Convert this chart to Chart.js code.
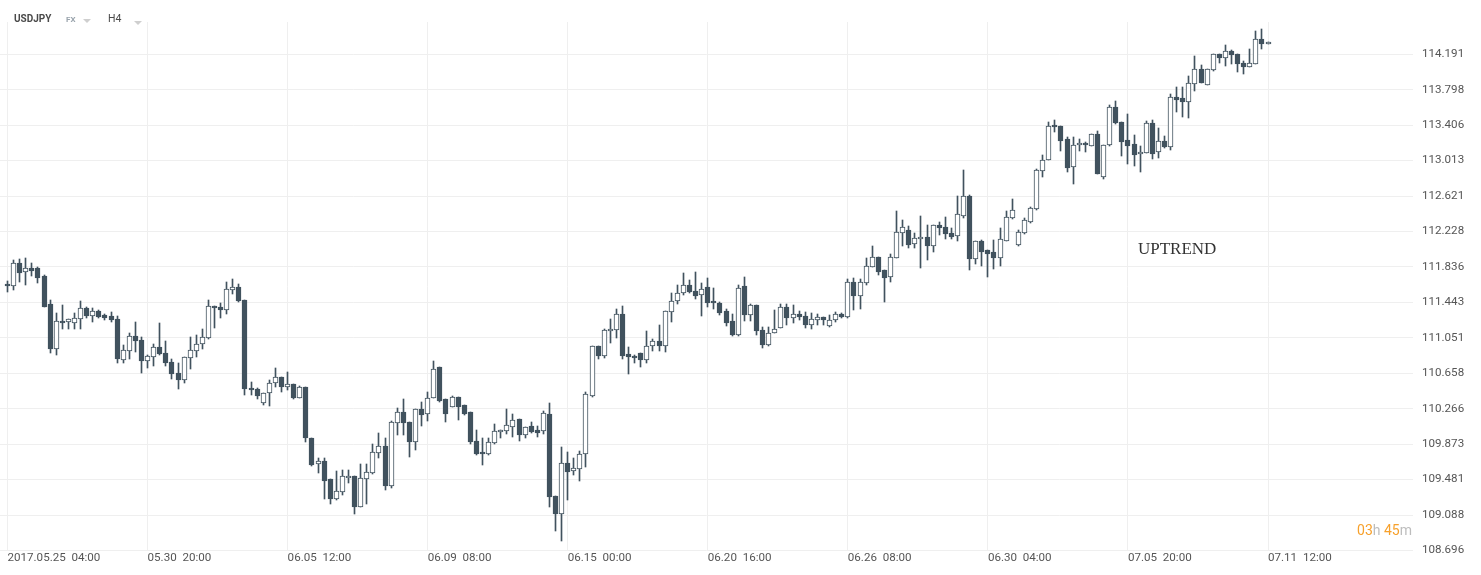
<!DOCTYPE html>
<html>
<head>
<meta charset="utf-8">
<script src="https://cdn.jsdelivr.net/npm/chart.js@4/dist/chart.umd.min.js"></script>
<style>
html,body{margin:0;padding:0;background:#ffffff;}
#wrap{position:relative;width:1481px;height:575px;overflow:hidden;background:#fff;}
#c{position:absolute;left:0;top:0;}
.t{position:absolute;white-space:pre;font-family:Roboto,"Liberation Sans",sans-serif;}
.tri{position:absolute;width:0;height:0;border-left:4px solid transparent;border-right:4px solid transparent;border-top:4px solid #cfcfcf;}
</style>
</head>
<body>
<div id="wrap">
<canvas id="c" width="1481" height="575"></canvas>
<div class="t" style="left:14px;top:14.3px;font-size:10px;line-height:10px;font-weight:bold;color:#4a4a4a;">USDJPY</div>
<div class="t" style="left:66px;top:16.3px;font-size:8px;line-height:8px;font-weight:bold;color:#9aa4ad;">FX</div>
<div class="tri" style="left:83px;top:19px;"></div>
<div class="t" style="left:108px;top:14.3px;font-size:10.5px;line-height:10.5px;color:#4a4a4a;">H4</div>
<div class="tri" style="left:134px;top:21px;"></div>
<div class="t" style="left:1138px;top:239.8px;font-family:'Liberation Serif','DejaVu Serif',serif;font-size:17px;line-height:17px;color:#333;">UPTREND</div>
<div class="t" style="right:69px;top:522.5px;font-size:14px;line-height:14px;"><span style="color:#f7a12c">03</span><span style="color:#bdbdbd">h </span><span style="color:#f7a12c">45</span><span style="color:#bdbdbd">m</span></div>
</div>
<script>
// USDJPY H4 candles, 2017.05.25 04:00 .. 2017.07.11 12:00
const opens = [111.650,111.621,111.876,111.776,111.827,111.827,111.735,111.426,110.924,111.237,111.224,111.212,111.256,111.378,111.293,111.348,111.304,111.293,111.256,110.805,
110.902,111.071,111.023,110.791,110.835,110.946,110.883,110.780,110.658,110.581,110.824,110.902,110.979,111.046,111.400,111.389,111.356,111.577,111.610,111.466,
110.492,110.487,110.325,110.436,110.547,110.614,110.503,110.536,110.388,110.503,109.938,109.650,109.683,109.483,109.262,109.340,109.495,109.517,109.181,109.483,
109.550,109.771,109.849,109.413,110.104,110.226,110.115,109.900,110.259,110.204,110.388,110.724,110.370,110.288,110.392,110.307,110.229,109.913,109.783,109.760,
109.883,110.008,110.019,110.066,110.152,109.974,110.074,110.030,110.019,110.204,109.296,109.096,109.661,109.576,109.595,109.760,110.403,110.957,110.853,111.127,
111.135,111.311,110.868,110.850,110.880,110.802,110.957,111.012,110.957,111.334,111.462,111.544,111.639,111.572,111.522,111.610,111.455,111.440,111.348,111.234,
111.079,111.625,111.307,111.415,111.135,110.968,111.104,111.163,111.389,111.267,111.311,111.289,111.190,111.245,111.278,111.179,111.245,111.311,111.278,111.674,
111.511,111.663,111.834,111.945,111.798,111.721,111.934,112.211,112.245,112.086,112.145,112.167,112.071,112.297,112.278,112.208,112.175,112.400,112.621,111.927,
112.120,112.020,111.998,111.938,112.127,112.374,112.082,112.208,112.337,112.474,112.898,113.017,113.405,113.394,113.249,112.939,113.183,113.212,113.179,113.305,
112.835,113.183,113.604,113.438,113.242,113.197,113.083,113.101,113.427,113.106,113.231,113.161,113.715,113.707,113.660,113.859,114.028,113.848,114.013,114.194,
114.147,114.227,114.194,114.094,114.050,114.083,114.357,114.302];
const highs = [111.680,111.909,111.923,111.934,111.876,111.835,111.746,111.470,111.329,111.411,111.260,111.323,111.459,111.392,111.378,111.359,111.315,111.334,111.293,110.972,
111.101,111.223,111.060,110.861,110.979,111.219,111.019,110.820,110.769,110.838,111.057,111.079,111.146,111.466,111.405,111.433,111.666,111.699,111.643,111.470,
110.558,110.490,110.440,110.584,110.713,110.620,110.669,110.540,110.514,110.505,109.940,109.716,109.716,109.485,109.572,109.583,109.583,109.520,109.650,109.650,
109.871,109.993,109.938,110.133,110.270,110.373,110.120,110.262,110.340,110.454,110.794,110.730,110.372,110.403,110.395,110.310,110.230,110.030,109.938,109.938,
110.096,110.035,110.262,110.210,110.157,110.068,110.118,110.074,110.240,110.325,109.300,109.845,109.783,109.716,109.797,110.454,110.960,110.960,111.149,111.259,
111.370,111.403,110.946,110.861,110.882,111.127,111.041,111.189,111.348,111.544,111.632,111.765,111.688,111.780,111.655,111.713,111.603,111.442,111.367,111.311,
111.639,111.724,111.429,111.417,111.168,111.168,111.356,111.429,111.429,111.415,111.348,111.334,111.323,111.311,111.280,111.300,111.334,111.323,111.704,111.711,
111.704,111.933,112.064,111.950,111.800,111.975,112.456,112.355,112.289,112.211,112.400,112.297,112.300,112.337,112.392,112.264,112.621,112.909,112.632,112.123,
112.134,112.022,112.134,112.264,112.456,112.588,112.245,112.374,112.503,112.920,113.076,113.438,113.463,113.395,113.278,113.275,113.253,113.215,113.308,113.342,
113.186,113.629,113.674,113.440,113.526,113.297,113.179,113.452,113.463,113.372,113.286,113.751,113.829,113.829,113.951,114.175,114.069,114.031,114.197,114.195,
114.294,114.238,114.195,114.116,114.249,114.445,114.467,114.326];
const lows = [111.555,111.583,111.669,111.639,111.738,111.661,111.390,110.886,110.861,111.149,111.149,111.152,111.152,111.267,111.224,111.274,111.249,111.224,110.769,110.769,
110.813,110.894,110.658,110.720,110.742,110.865,110.739,110.592,110.481,110.550,110.706,110.835,110.924,111.040,111.157,111.267,111.311,111.533,111.450,110.414,
110.414,110.370,110.307,110.299,110.503,110.447,110.470,110.370,110.385,109.894,109.635,109.557,109.266,109.214,109.260,109.307,109.446,109.103,109.180,109.214,
109.539,109.716,109.369,109.391,109.974,109.974,109.734,109.808,110.077,110.133,110.385,110.343,110.122,110.285,110.140,110.196,109.877,109.757,109.642,109.755,
109.880,109.941,109.986,109.948,109.908,109.937,109.993,109.948,109.986,109.181,108.915,108.804,109.258,109.531,109.468,109.623,110.400,110.813,110.830,110.990,
111.046,110.813,110.647,110.776,110.725,110.776,110.908,110.902,110.894,111.223,111.426,111.522,111.550,111.478,111.296,111.389,111.367,111.300,111.182,111.071,
111.075,111.234,111.234,111.086,110.938,110.965,111.100,111.160,111.189,111.215,111.245,111.157,111.146,111.190,111.190,111.168,111.223,111.275,111.275,111.356,
111.367,111.636,111.830,111.746,111.451,111.674,111.930,112.064,112.045,112.042,111.820,111.913,111.998,112.190,112.145,112.145,112.127,112.381,111.805,111.869,
111.850,111.728,111.813,111.850,112.125,112.370,112.068,112.197,112.326,112.470,112.835,113.015,113.329,113.123,112.884,112.751,113.123,113.112,113.175,112.862,
112.813,113.180,113.424,113.068,112.972,112.957,112.884,113.100,113.028,113.039,113.158,113.131,113.552,113.497,113.489,113.781,113.867,113.845,114.010,114.091,
114.061,114.083,113.998,113.976,114.045,114.080,114.253,114.300];
const closes = [111.621,111.876,111.772,111.820,111.794,111.716,111.396,110.931,111.237,111.212,111.256,111.267,111.378,111.293,111.348,111.285,111.274,111.245,110.813,110.916,
111.071,111.012,110.791,110.846,110.946,110.868,110.769,110.647,110.581,110.835,110.913,110.979,111.057,111.400,111.378,111.356,111.588,111.610,111.455,110.481,
110.470,110.403,110.436,110.554,110.614,110.503,110.536,110.388,110.503,109.938,109.639,109.683,109.468,109.262,109.351,109.517,109.517,109.181,109.495,109.561,
109.783,109.849,109.413,110.115,110.226,110.110,109.900,110.259,110.196,110.388,110.709,110.354,110.204,110.392,110.288,110.207,109.894,109.760,109.760,109.894,
110.019,110.030,110.080,110.144,109.975,110.066,110.011,110.000,110.215,109.285,109.103,109.661,109.568,109.606,109.767,110.425,110.957,110.853,111.135,111.149,
111.311,110.853,110.835,110.824,110.802,110.964,111.012,110.957,111.345,111.462,111.550,111.639,111.561,111.517,111.595,111.440,111.433,111.329,111.219,111.086,
111.599,111.307,111.415,111.123,110.968,111.101,111.149,111.396,111.267,111.311,111.278,111.190,111.256,111.278,111.245,111.245,111.311,111.278,111.674,111.511,
111.674,111.845,111.945,111.783,111.716,111.945,112.222,112.277,112.084,112.153,112.167,112.071,112.297,112.264,112.197,112.167,112.419,112.621,111.924,112.120,
112.004,111.982,111.938,112.145,112.385,112.466,112.219,112.356,112.485,112.910,113.020,113.400,113.383,113.234,112.935,113.183,113.212,113.183,113.305,112.865,
113.183,113.604,113.427,113.223,113.179,113.076,113.112,113.427,113.083,113.231,113.161,113.715,113.688,113.660,113.870,114.028,113.870,114.028,114.194,114.147,
114.227,114.183,114.083,114.050,114.094,114.357,114.302,114.324];

const xTickIndex = [0, 23, 46, 69, 92, 115, 138, 161, 184, 207];
const xTickLabels = ['2017.05.25  04:00', '05.30  20:00', '06.05  12:00', '06.09  08:00', '06.15  00:00',
                     '06.20  16:00', '06.26  08:00', '06.30  04:00', '07.05  20:00', '07.11  12:00'];
const yTickValues = [108.696, 109.0885, 109.481, 109.8735, 110.266, 110.6585, 111.051, 111.4435,
                     111.836, 112.2285, 112.621, 113.0135, 113.406, 113.7985, 114.191];
const yTickLabels = ['108.696', '109.088', '109.481', '109.873', '110.266', '110.658', '111.051', '111.443',
                     '111.836', '112.228', '112.621', '113.013', '113.406', '113.798', '114.191'];

const candleColor = '#41525e';
const gridColor = '#efefef';
const idx = opens.map((_, i) => i);
const isBull = idx.map(i => closes[i] >= opens[i]);

// snap bar elements (positioned by the scales) to whole pixels so candles render crisp
const pixelSnap = {
  id: 'pixelSnap',
  beforeDatasetsDraw(chart) {
    chart.getSortedVisibleDatasetMetas().forEach(meta => {
      meta.data.forEach(el => {
        el.x = Math.floor(el.x) + 0.5;
        el.y = Math.round(el.y);
        el.base = Math.round(el.base);
        if (el.base === el.y) el.base = el.y + 1;
      });
    });
  }
};

new Chart(document.getElementById('c'), {
  type: 'bar',
  data: {
    datasets: [
      {
        label: 'body',
        data: idx.map(i => ({ x: i, y: [opens[i], closes[i]] })),
        backgroundColor: idx.map(i => isBull[i] ? '#ffffff' : candleColor),
        borderColor: candleColor,
        borderWidth: 1,
        borderSkipped: false,
        barThickness: 5,
        grouped: false
      },
      {
        label: 'wick',
        data: idx.map(i => ({ x: i, y: [lows[i], highs[i]] })),
        backgroundColor: candleColor,
        borderWidth: 0,
        barThickness: 1,
        grouped: false
      }
    ]
  },
  plugins: [pixelSnap],
  options: {
    responsive: false,
    animation: false,
    events: [],
    layout: { padding: { top: 22, left: 0, right: 0, bottom: 0 } },
    plugins: { legend: { display: false }, tooltip: { enabled: false } },
    scales: {
      x: {
        type: 'linear',
        min: -1.2316,
        max: 230.81,
        offset: false,
        bounds: 'data',
        grid: { color: gridColor, offset: false, drawTicks: false },
        border: { display: false },
        afterBuildTicks: s => { s.ticks = xTickIndex.map(v => ({ value: v })); },
        afterFit: s => { s.height = 24; },
        ticks: {
          autoSkip: false, maxRotation: 0, minRotation: 0, align: 'start', padding: 0,
          color: '#555555', font: { family: 'Roboto', size: 11.6 },
          callback: (v, i) => xTickLabels[i]
        }
      },
      y: {
        position: 'right',
        min: 108.690,
        max: 114.548,
        beginAtZero: false,
        bounds: 'data',
        grid: { color: gridColor, drawTicks: false },
        border: { display: false },
        afterBuildTicks: s => { s.ticks = yTickValues.map(v => ({ value: v })); },
        afterFit: s => { s.width = 68; },
        ticks: {
          padding: 9, color: '#555555', font: { family: 'Roboto', size: 11.6 },
          callback: (v, i) => yTickLabels[i]
        }
      }
    }
  }
});
</script>
</body>
</html>
